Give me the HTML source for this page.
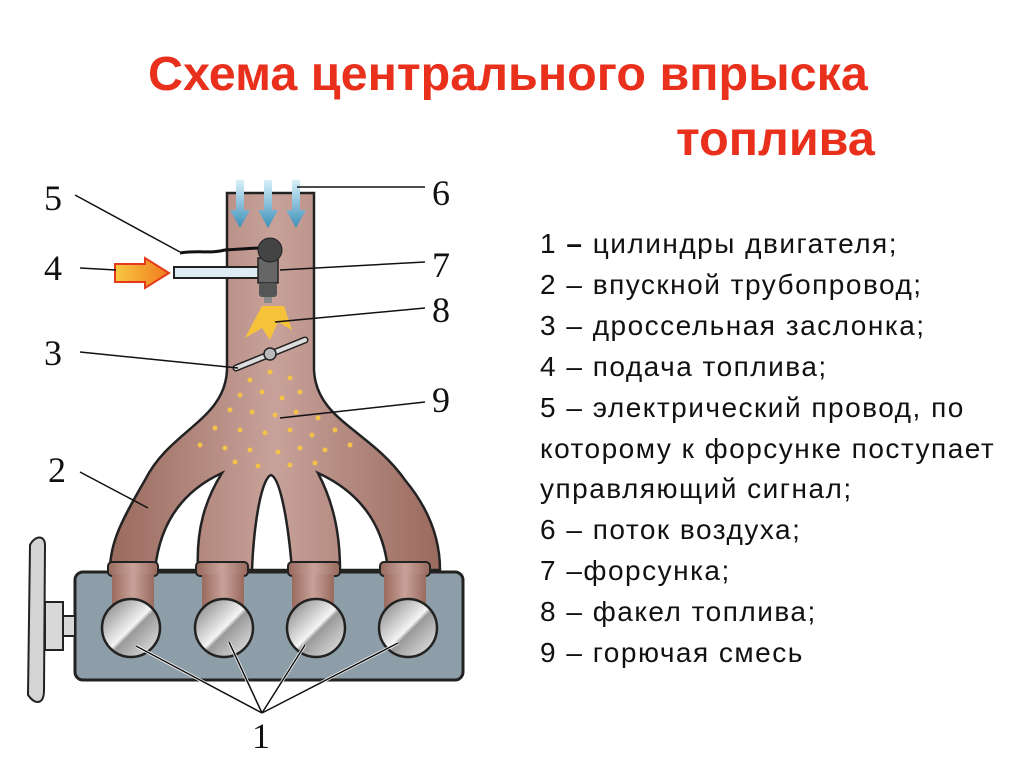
<!DOCTYPE html>
<html><head><meta charset="utf-8"><style>
body{margin:0;width:1024px;height:767px;background:#fff;overflow:hidden;position:relative;font-family:"Liberation Sans",sans-serif}
.t{position:absolute;color:#e8301c;font-weight:bold;font-size:48.5px;white-space:nowrap}
.l{position:absolute;left:540px;top:224px;font-size:28px;letter-spacing:1.5px;line-height:40.9px;color:#111;white-space:nowrap}
svg{position:absolute;left:0;top:0}
.n{font-family:"Liberation Serif",serif;font-size:36px;fill:#111}
</style></head><body>
<div class="t" style="left:148px;top:46px">Схема центрального впрыска</div>
<div class="t" style="left:676px;top:111px">топлива</div>
<div class="l">1 <b>–</b> цилиндры двигателя;<br>2 – впускной трубопровод;<br>3 – дроссельная заслонка;<br>4 – подача топлива;<br>5 – электрический провод, по<br>которому к форсунке поступает<br>управляющий сигнал;<br>6 – поток воздуха;<br>7 –форсунка;<br>8 – факел топлива;<br>9 – горючая смесь</div>
<svg width="1024" height="767">
<defs>
<linearGradient id="br" x1="0" x2="1"><stop offset="0" stop-color="#9a6a5e"/><stop offset=".5" stop-color="#c8a29a"/><stop offset="1" stop-color="#9a6a5e"/></linearGradient>
<linearGradient id="cy" x1="0" y1="0" x2="1" y2="1"><stop offset="0" stop-color="#777"/><stop offset=".5" stop-color="#f4f4f4"/><stop offset=".55" stop-color="#999"/><stop offset="1" stop-color="#eee"/></linearGradient>
<linearGradient id="ar" x1="0" y1="0" x2="0" y2="1"><stop offset="0" stop-color="#d8f0fa"/><stop offset="1" stop-color="#3a8fb8"/></linearGradient>
<linearGradient id="or" x1="0" x2="1"><stop offset="0" stop-color="#f7c840"/><stop offset="1" stop-color="#f07a20"/></linearGradient>
</defs>
<path d="M227,193 L227,370 C225,420 170,430 145,480 C125,515 110,540 110,570 L440,570 C440,540 430,510 405,480 C370,430 316,420 314,370 L314,193 Z" fill="url(#br)" stroke="#222" stroke-width="2.5"/>
<path d="M155,570 C160,520 185,490 222,473 C205,500 196,530 198,570 Z" fill="#fff" stroke="#222" stroke-width="2.5"/>
<path d="M252,570 C254,520 262,478 271,475 C280,478 288,520 292,570 Z" fill="#fff" stroke="#222" stroke-width="2.5"/>
<path d="M318,473 C355,490 383,520 388,570 L340,570 C340,530 332,500 318,473 Z" fill="#fff" stroke="#222" stroke-width="2.5"/>
<g fill="#f3c24a">
<circle cx="250" cy="380" r="2.5"/><circle cx="270" cy="372" r="2.5"/><circle cx="290" cy="378" r="2.5"/><circle cx="240" cy="395" r="2.5"/><circle cx="262" cy="392" r="2.5"/><circle cx="282" cy="398" r="2.5"/><circle cx="300" cy="392" r="2.5"/><circle cx="230" cy="410" r="2.5"/><circle cx="252" cy="412" r="2.5"/><circle cx="275" cy="415" r="2.5"/><circle cx="296" cy="412" r="2.5"/><circle cx="318" cy="418" r="2.5"/><circle cx="215" cy="428" r="2.5"/><circle cx="240" cy="430" r="2.5"/><circle cx="265" cy="433" r="2.5"/><circle cx="290" cy="430" r="2.5"/><circle cx="312" cy="435" r="2.5"/><circle cx="335" cy="430" r="2.5"/><circle cx="200" cy="445" r="2.5"/><circle cx="225" cy="448" r="2.5"/><circle cx="250" cy="450" r="2.5"/><circle cx="278" cy="452" r="2.5"/><circle cx="300" cy="448" r="2.5"/><circle cx="325" cy="450" r="2.5"/><circle cx="350" cy="445" r="2.5"/><circle cx="235" cy="462" r="2.5"/><circle cx="258" cy="466" r="2.5"/><circle cx="290" cy="465" r="2.5"/><circle cx="315" cy="463" r="2.5"/>
</g>
<rect x="75" y="572" width="388" height="108" rx="8" fill="#8e9ea8" stroke="#222" stroke-width="3"/>
<g fill="url(#br)" stroke="#222" stroke-width="2"><rect x="108" y="562" width="50" height="14" rx="4"/><rect x="196" y="562" width="52" height="14" rx="4"/><rect x="288" y="562" width="52" height="14" rx="4"/><rect x="380" y="562" width="50" height="14" rx="4"/>
<rect x="112" y="574" width="42" height="40" stroke="none"/><rect x="202" y="574" width="42" height="40" stroke="none"/><rect x="292" y="574" width="42" height="40" stroke="none"/><rect x="384" y="574" width="42" height="40" stroke="none"/></g>
<g fill="url(#cy)" stroke="#222" stroke-width="2.5"><circle cx="131" cy="628" r="29"/><circle cx="224" cy="628" r="29"/><circle cx="316" cy="628" r="29"/><circle cx="408" cy="628" r="29"/></g>
<rect x="45" y="602" width="18" height="48" fill="#d8d8d8" stroke="#222" stroke-width="2"/>
<rect x="63" y="616" width="12" height="20" fill="#d8d8d8" stroke="#222" stroke-width="2"/>
<path d="M30,545 C35,535 45,535 45,545 L44,690 C44,705 35,705 28,695 Z" fill="#d4d4d4" stroke="#222" stroke-width="2"/>
<g fill="url(#ar)"><path d="M236,180h8v30h6l-10,18l-10,-18h6z"/><path d="M264,180h8v30h6l-10,18l-10,-18h6z"/><path d="M292,180h8v30h6l-10,18l-10,-18h6z"/></g>
<path d="M180,253 C200,250 210,254 225,250 L258,248" stroke="#111" stroke-width="3" fill="none"/>
<rect x="174" y="267" width="90" height="11" fill="#dcecf2" stroke="#222" stroke-width="2"/>
<rect x="258" y="258" width="20" height="25" fill="#666" stroke="#222" stroke-width="1.5"/>
<circle cx="270" cy="250" r="12" fill="#444" stroke="#222"/>
<rect x="259" y="283" width="18" height="14" rx="3" fill="#555"/>
<rect x="264" y="297" width="8" height="6" fill="#888"/>
<path d="M115,264h30v-6l24,15l-24,15v-6h-30z" fill="url(#or)" stroke="#e23a1a" stroke-width="2"/>
<path d="M262,306 L284,306 L292,330 L278,322 L270,340 L262,328 L245,338 Z" fill="#f5c23a"/>
<path d="M236,368 L305,340" stroke="#222" stroke-width="7" stroke-linecap="round"/>
<path d="M236,368 L305,340" stroke="#ddd" stroke-width="4" stroke-linecap="round"/>
<circle cx="270" cy="354" r="6" fill="#bbb" stroke="#222" stroke-width="1.5"/>
<g stroke="#111" stroke-width="1.5" fill="none">
<path d="M75,195 L180,252"/><path d="M297,187 L425,187"/><path d="M80,268 L116,270"/><path d="M280,270 L425,262"/><path d="M275,322 L425,308"/><path d="M80,352 L238,368"/><path d="M280,418 L425,402"/><path d="M80,472 L148,508"/>
</g>
<g stroke="#fff" stroke-width="3" fill="none"><path d="M262,713 L136,646 M262,713 L229,642 M262,713 L305,645 M262,713 L398,643"/></g>
<g stroke="#111" stroke-width="1.5" fill="none"><path d="M262,713 L136,646 M262,713 L229,642 M262,713 L305,645 M262,713 L398,643"/></g>
<text class="n" x="44" y="210">5</text><text class="n" x="432" y="205">6</text><text class="n" x="44" y="280">4</text><text class="n" x="432" y="277">7</text><text class="n" x="432" y="322">8</text><text class="n" x="44" y="365">3</text><text class="n" x="432" y="412">9</text><text class="n" x="48" y="482">2</text><text class="n" x="252" y="748">1</text>
</svg>
</body></html>
